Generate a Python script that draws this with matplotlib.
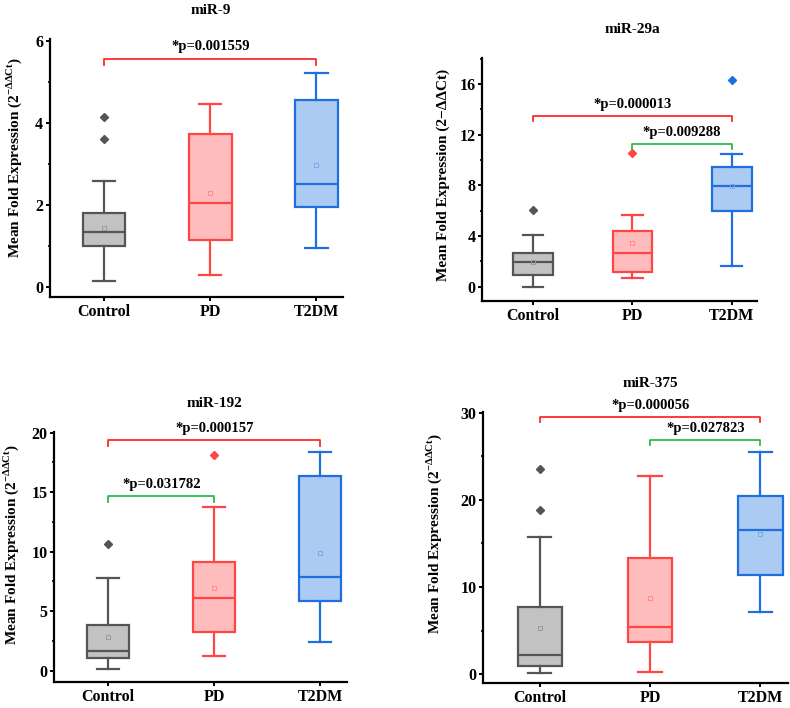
import numpy as np
import matplotlib.pyplot as plt
from matplotlib.ticker import MultipleLocator
import matplotlib.transforms as mtransforms

plt.rcParams['font.family'] = ['Liberation Serif', 'DejaVu Serif']
plt.rcParams['font.weight'] = 'bold'
plt.rcParams['mathtext.fontset'] = 'custom'
plt.rcParams['mathtext.rm'] = 'Liberation Serif'
plt.rcParams['mathtext.bf'] = 'Liberation Serif:bold'

groups = ['Control', 'PD', 'T2DM']

# box statistics: [whislo, q1, med, q3, whishi, mean]
mir9 = [[0.14, 1.00, 1.34, 1.80, 2.57, 1.44],
        [0.28, 1.14, 2.03, 3.71, 4.46, 2.29],
        [0.95, 1.95, 2.51, 4.54, 5.21, 2.96]]
mir9_out = [[3.61, 4.14], [], []]

mir29a = [[0.00, 0.92, 1.98, 2.64, 4.06, 1.98],
          [0.71, 1.13, 2.66, 4.43, 5.67, 3.43],
          [1.66, 5.98, 7.91, 9.41, 10.46, 7.91]]
mir29a_out = [[6.04], [10.54], [16.34]]

mir192 = [[0.14, 1.04, 1.68, 3.84, 7.76, 2.80],
          [1.20, 3.28, 6.13, 9.10, 13.72, 6.97],
          [2.44, 5.83, 7.84, 16.36, 18.40, 9.86]]
mir192_out = [[10.67], [18.10], []]

mir375 = [[0.15, 0.96, 2.18, 7.76, 15.78, 5.35],
          [0.31, 3.67, 5.39, 13.30, 22.74, 8.79],
          [7.11, 11.39, 16.55, 20.48, 25.53, 16.09]]
mir375_out = [[18.8, 23.5], [], []]

# significance brackets: (from group, to group, height, p text)
mir9_sig = [(1, 3, 5.56, '*p=0.001559')]
mir29a_sig = [(1, 3, 13.5, '*p=0.000013'), (2, 3, 11.28, '*p=0.009288')]
mir192_sig = [(1, 3, 19.36, '*p=0.000157'), (1, 2, 14.68, '*p=0.031782')]
mir375_sig = [(1, 3, 29.54, '*p=0.000056'), (2, 3, 26.86, '*p=0.027823')]

edge_colors = ['#555555', '#ff4545', '#1f6fe0']
fill_colors = ['#c2c2c2', '#ffbcbc', '#abcbf3']
mean_colors = ['#9a9a9a', '#ff8a8a', '#7aa8ea']
red = '#ff2a2a'
green = '#2dbb4a'

fig = plt.figure(figsize=(7.9, 7.08), dpi=100)

label_sup = r'Mean Fold Expression (2$^{\mathrm{-\Delta\Delta Ct}}$)'
label_plain = 'Mean Fold Expression (2\u2212\u0394\u0394Ct)'

panels = [
    dict(title='miR-9', stats=mir9, out=mir9_out, sig=mir9_sig,
         pos=[0.0633, 0.5805, 0.3709, 0.364], ylim=(-0.25, 6.03),
         major=2, minor=1, label=label_sup, lab=(-0.088, 0.54),
         dh=0.15, dt=0.13),
    dict(title='miR-29a', stats=mir29a, out=mir29a_out, sig=mir29a_sig,
         pos=[0.6105, 0.5753, 0.3473, 0.3428], ylim=(-1.1, 18.05),
         major=4, minor=2, label=label_plain, lab=(-0.118, 0.52),
         dh=0.4, dt=0.35),
    dict(title='miR-192', stats=mir192, out=mir192_out, sig=mir192_sig,
         pos=[0.0687, 0.0363, 0.370, 0.354], ylim=(-0.98, 20.08),
         major=5, minor=2.5, label=label_sup, lab=(-0.114, 0.55),
         dh=0.48, dt=0.4),
    dict(title='miR-375', stats=mir375, out=mir375_out, sig=mir375_sig,
         pos=[0.6118, 0.0349, 0.3857, 0.3836], ylim=(-1.03, 30.1),
         major=10, minor=5, label=label_sup, lab=(-0.129, 0.55),
         dh=0.6, dt=0.55),
]

for p in panels:
    ax = fig.add_axes(p['pos'])
    for i, s in enumerate(p['stats']):
        st = dict(whislo=s[0], q1=s[1], med=s[2], q3=s[3], whishi=s[4],
                  mean=s[5], fliers=p['out'][i])
        ec = edge_colors[i]
        ax.bxp([st], positions=[i + 1], widths=0.4, capwidths=0.21,
               patch_artist=True, showmeans=True,
               boxprops=dict(facecolor=fill_colors[i], edgecolor=ec, linewidth=1.6),
               medianprops=dict(color=ec, linewidth=1.6),
               whiskerprops=dict(color=ec, linewidth=1.6),
               capprops=dict(color=ec, linewidth=1.6),
               flierprops=dict(marker='D', markersize=4.5, markerfacecolor=ec,
                               markeredgecolor=ec),
               meanprops=dict(marker='s', markersize=3.5, markerfacecolor='none',
                              markeredgecolor=mean_colors[i], markeredgewidth=0.7))

    for a, b, h, txt in p['sig']:
        c = red if (a, b) == (1, 3) else green
        ax.plot([a, a, b, b], [h - p['dh'], h, h, h - p['dh']], color=c, linewidth=1.3)
        ax.text((a + b) / 2, h + p['dt'], txt, ha='center', va='bottom',
                fontsize=10.5, fontweight='bold')

    ax.set_xlim(0.49, 3.25)
    ax.set_ylim(*p['ylim'])
    ax.set_xticks([1, 2, 3])
    ax.set_xticklabels(groups)
    ax.yaxis.set_major_locator(MultipleLocator(p['major']))
    ax.yaxis.set_minor_locator(MultipleLocator(p['minor']))
    for side in ['top', 'right']:
        ax.spines[side].set_visible(False)
    for side in ['left', 'bottom']:
        ax.spines[side].set_linewidth(1.6)
    ax.tick_params(axis='both', which='major', length=3, width=1.4,
                   labelsize=11.5, pad=2)
    ax.tick_params(axis='y', which='minor', length=1.5, width=1.2)
    for t in ax.get_xticklabels() + ax.get_yticklabels():
        t.set_fontweight('bold')
    ax.set_ylabel(p['label'], fontsize=11, fontweight='bold')
    ax.yaxis.set_label_coords(*p['lab'])

    # title centred over the middle group, a fixed distance above the axes
    trans = mtransforms.blended_transform_factory(ax.transData, ax.transAxes)
    trans = trans + mtransforms.ScaledTranslation(0, 0.22, fig.dpi_scale_trans)
    ax.text(2, 1.0, p['title'], transform=trans, ha='center', va='bottom',
            fontsize=11, fontweight='bold')

fig.savefig('out.png', dpi=100)
